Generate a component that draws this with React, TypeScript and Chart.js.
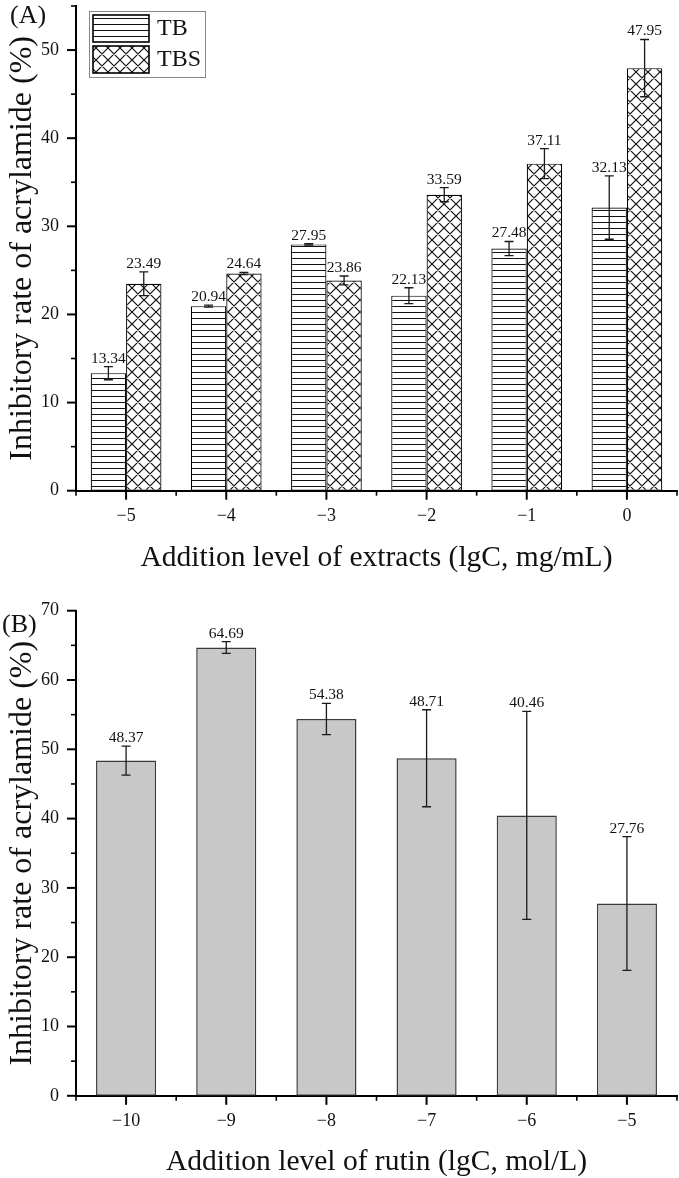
import React, { useEffect, useRef } from 'react';
import { Chart, registerables } from 'chart.js';

Chart.register(...registerables);

const FONT = "'Liberation Serif', 'Times New Roman', serif";

// ---- Panel A data ----
const catsA = ['\u22125', '\u22124', '\u22123', '\u22122', '\u22121', '0'];
const tbValues = [13.34, 20.94, 27.95, 22.13, 27.48, 32.13];
const tbErrors = [0.75, 0.12, 0.08, 0.9, 0.8, 3.6];
const tbsValues = [23.49, 24.64, 23.86, 33.59, 37.11, 47.95];
const tbsErrors = [1.35, 0.12, 0.5, 0.8, 1.7, 3.25];
const yTicksA = [0, 10, 20, 30, 40, 50];
const yMaxA = 55;

// ---- Panel B data ----
const catsB = ['\u221210', '\u22129', '\u22128', '\u22127', '\u22126', '\u22125'];
const rutinValues = [48.37, 64.69, 54.38, 48.71, 40.46, 27.76];
const rutinErrors = [2.1, 0.85, 2.25, 7.0, 15.0, 9.65];
const yTicksB = [0, 10, 20, 30, 40, 50, 60, 70];
const yMaxB = 70;

function makeHLines(): CanvasPattern | string {
  const c = document.createElement('canvas');
  c.width = 12;
  c.height = 6;
  const g = c.getContext('2d');
  if (!g) return '#fff';
  g.fillStyle = '#fff';
  g.fillRect(0, 0, 12, 6);
  g.strokeStyle = '#111';
  g.lineWidth = 1;
  g.beginPath();
  g.moveTo(0, 0.5);
  g.lineTo(12, 0.5);
  g.stroke();
  return g.createPattern(c, 'repeat') || '#fff';
}

function makeCross(): CanvasPattern | string {
  const s = 12;
  const c = document.createElement('canvas');
  c.width = s;
  c.height = s;
  const g = c.getContext('2d');
  if (!g) return '#fff';
  g.fillStyle = '#fff';
  g.fillRect(0, 0, s, s);
  g.strokeStyle = '#111';
  g.lineWidth = 1.2;
  g.beginPath();
  for (let k = -1; k <= 1; k++) {
    g.moveTo(k * s, 0);
    g.lineTo(k * s + s, s);
    g.moveTo(k * s + s, 0);
    g.lineTo(k * s, s);
  }
  g.stroke();
  return g.createPattern(c, 'repeat') || '#fff';
}

type DecorCfg = {
  errors: number[][];
  yMax: number;
  panel: string;
  panelX: number;
  panelY: number;
  legend: boolean;
};

function decorPlugin(cfg: DecorCfg) {
  return {
    id: 'decor',
    afterDatasetsDraw(chart: any) {
      const ctx = chart.ctx;
      const ys = chart.scales.y;
      chart.data.datasets.forEach((ds: any, di: number) => {
        const meta = chart.getDatasetMeta(di);
        const errs = cfg.errors[di];
        meta.data.forEach((bar: any, i: number) => {
          const v = ds.data[i] as number;
          const e = errs[i];
          const x = bar.x;
          const yt = ys.getPixelForValue(v + e);
          const yb = ys.getPixelForValue(v - e);
          const cw = 9;
          ctx.save();
          ctx.strokeStyle = '#1a1a1a';
          ctx.lineWidth = 1.3;
          ctx.beginPath();
          ctx.moveTo(x, yt);
          ctx.lineTo(x, yb);
          ctx.moveTo(x - cw / 2, yt);
          ctx.lineTo(x + cw / 2, yt);
          ctx.moveTo(x - cw / 2, yb);
          ctx.lineTo(x + cw / 2, yb);
          ctx.stroke();
          ctx.font = `15.5px ${FONT}`;
          ctx.fillStyle = '#111';
          ctx.textAlign = 'center';
          ctx.textBaseline = 'alphabetic';
          ctx.fillText(v.toFixed(2), x, yt - 4);
          ctx.restore();
        });
      });
    },
    afterDraw(chart: any) {
      const ctx = chart.ctx;
      const { left, right, bottom } = chart.chartArea;
      const ys = chart.scales.y;
      const xs = chart.scales.x;
      ctx.save();
      ctx.strokeStyle = '#000';
      // y ticks
      for (let v = 0; v <= cfg.yMax; v += 5) {
        const py = ys.getPixelForValue(v);
        const major = v % 10 === 0;
        ctx.lineWidth = major ? 2 : 1.6;
        ctx.beginPath();
        ctx.moveTo(left - (major ? 9 : 5), py);
        ctx.lineTo(left, py);
        ctx.stroke();
      }
      // x ticks
      const n = chart.data.labels.length;
      for (let i = 0; i < n; i++) {
        const px = xs.getPixelForValue(i);
        ctx.lineWidth = 2;
        ctx.beginPath();
        ctx.moveTo(px, bottom);
        ctx.lineTo(px, bottom + 9);
        ctx.stroke();
      }
      for (let i = 0; i <= n; i++) {
        const px = left + ((right - left) * i) / n;
        ctx.lineWidth = 1.6;
        ctx.beginPath();
        ctx.moveTo(px, bottom);
        ctx.lineTo(px, bottom + 5);
        ctx.stroke();
      }
      // panel label
      ctx.fillStyle = '#111';
      ctx.font = `26px ${FONT}`;
      ctx.textAlign = 'left';
      ctx.textBaseline = 'middle';
      ctx.fillText(cfg.panel, cfg.panelX, cfg.panelY);
      // legend
      if (cfg.legend) {
        ctx.strokeStyle = '#888';
        ctx.lineWidth = 1;
        ctx.strokeRect(89.5, 11.5, 116, 66);
        chart.data.datasets.forEach((ds: any, di: number) => {
          const sy = 15 + di * 31;
          ctx.fillStyle = ds.backgroundColor;
          ctx.fillRect(93, sy, 56, 27);
          ctx.strokeStyle = '#000';
          ctx.lineWidth = 1.6;
          ctx.strokeRect(93, sy, 56, 27);
          ctx.fillStyle = '#111';
          ctx.font = `24px ${FONT}`;
          ctx.textAlign = 'left';
          ctx.textBaseline = 'middle';
          ctx.fillText(ds.label, 157, sy + 14);
        });
      }
      ctx.restore();
    },
  };
}

function scales(opts: {
  xTitle: string;
  yMax: number;
  yTicks: number[];
  xHeight: number;
  xPad: number;
  xTitlePadBottom: number;
}) {
  return {
    x: {
      type: 'category',
      offset: true,
      grid: { display: false, drawTicks: false },
      border: { display: true, color: '#000', width: 2 },
      ticks: {
        font: { family: FONT, size: 18 },
        color: '#111',
        padding: opts.xPad,
        maxRotation: 0,
        autoSkip: false,
      },
      title: {
        display: true,
        text: opts.xTitle,
        font: { family: FONT, size: 29.5 },
        color: '#111',
        padding: { top: 0, bottom: opts.xTitlePadBottom },
      },
      afterFit: (s: any) => {
        s.height = opts.xHeight;
        s.paddingLeft = 0;
        s.paddingRight = 0;
      },
    },
    y: {
      min: 0,
      max: opts.yMax,
      grid: { display: false, drawTicks: false },
      border: { display: true, color: '#000', width: 2 },
      ticks: {
        font: { family: FONT, size: 18 },
        color: '#111',
        padding: 17,
      },
      afterBuildTicks: (s: any) => {
        s.ticks = opts.yTicks.map((v) => ({ value: v }));
      },
      title: {
        display: true,
        text: 'Inhibitory rate of acrylamide (%)',
        font: { family: FONT, size: 32 },
        color: '#111',
        padding: { top: 3, bottom: 0 },
      },
      afterFit: (s: any) => {
        s.width = 76;
        s.paddingTop = 0;
        s.paddingBottom = 0;
      },
    },
  };
}

function PanelA() {
  const ref = useRef<HTMLCanvasElement>(null);
  useEffect(() => {
    if (!ref.current) return;
    const tbFill = makeHLines();
    const tbsFill = makeCross();
    const chart = new Chart(ref.current, {
      type: 'bar',
      data: {
        labels: catsA,
        datasets: [
          {
            label: 'TB',
            data: tbValues,
            backgroundColor: tbFill as any,
            borderColor: '#000',
            borderWidth: 1.2,
            borderSkipped: false,
            categoryPercentage: 0.706,
            barPercentage: 1,
          },
          {
            label: 'TBS',
            data: tbsValues,
            backgroundColor: tbsFill as any,
            borderColor: '#000',
            borderWidth: 1.2,
            borderSkipped: false,
            categoryPercentage: 0.706,
            barPercentage: 1,
          },
        ],
      },
      options: {
        responsive: false,
        animation: false,
        devicePixelRatio: 1,
        layout: { padding: { top: 6, right: 2, left: 0, bottom: 0 } },
        plugins: { legend: { display: false }, tooltip: { enabled: false } },
        scales: scales({
          xTitle: 'Addition level of extracts (lgC, mg/mL)',
          yMax: yMaxA,
          yTicks: yTicksA,
          xHeight: 99.3,
          xPad: 15,
          xTitlePadBottom: 14.3,
        }) as any,
      },
      plugins: [
        decorPlugin({
          errors: [tbErrors, tbsErrors],
          yMax: yMaxA,
          panel: '(A)',
          panelX: 10,
          panelY: 16,
          legend: true,
        }),
      ],
    });
    return () => chart.destroy();
  }, []);
  return <canvas ref={ref} width={679} height={590} style={{ display: 'block' }} />;
}

function PanelB() {
  const ref = useRef<HTMLCanvasElement>(null);
  useEffect(() => {
    if (!ref.current) return;
    const chart = new Chart(ref.current, {
      type: 'bar',
      data: {
        labels: catsB,
        datasets: [
          {
            label: 'rutin',
            data: rutinValues,
            backgroundColor: '#c8c8c8',
            borderColor: '#3a3a3a',
            borderWidth: 1.5,
            borderSkipped: false,
            categoryPercentage: 0.6,
            barPercentage: 1,
          },
        ],
      },
      options: {
        responsive: false,
        animation: false,
        devicePixelRatio: 1,
        layout: { padding: { top: 20.7, right: 2, left: 0, bottom: 0 } },
        plugins: { legend: { display: false }, tooltip: { enabled: false } },
        scales: scales({
          xTitle: 'Addition level of rutin (lgC, mol/L)',
          yMax: yMaxB,
          yTicks: yTicksB,
          xHeight: 82.2,
          xPad: 14.2,
          xTitlePadBottom: -2,
        }) as any,
      },
      plugins: [
        decorPlugin({
          errors: [rutinErrors],
          yMax: yMaxB,
          panel: '(B)',
          panelX: 2,
          panelY: 35,
          legend: false,
        }),
      ],
    });
    return () => chart.destroy();
  }, []);
  return <canvas ref={ref} width={679} height={588} style={{ display: 'block' }} />;
}

export default function App() {
  return (
    <div
      style={{
        position: 'absolute',
        left: 0,
        top: 0,
        width: 679,
        height: 1178,
        background: '#fff',
        overflow: 'hidden',
      }}
    >
      <PanelA />
      <PanelB />
    </div>
  );
}
